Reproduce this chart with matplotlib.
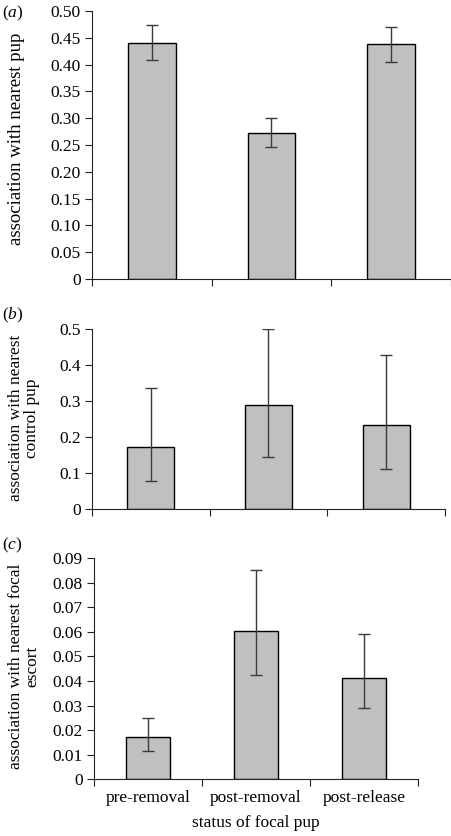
import matplotlib
matplotlib.use("Agg")
import matplotlib.pyplot as plt
import numpy as np

plt.rcParams['font.family'] = ['Liberation Serif', 'DejaVu Serif']
plt.rcParams['mathtext.fontset'] = 'custom'
plt.rcParams['mathtext.it'] = 'Liberation Serif:italic'
plt.rcParams['mathtext.rm'] = 'Liberation Serif'

# Data
status = ['pre-removal', 'post-removal', 'post-release']

pup_mean = [0.441, 0.273, 0.438]
pup_lo = [0.408, 0.247, 0.405]
pup_hi = [0.473, 0.301, 0.470]

ctrl_mean = [0.172, 0.290, 0.233]
ctrl_lo = [0.078, 0.145, 0.111]
ctrl_hi = [0.336, 0.499, 0.428]

esc_mean = [0.0171, 0.0604, 0.0413]
esc_lo = [0.0115, 0.0425, 0.0289]
esc_hi = [0.0249, 0.0850, 0.0590]

W, H = 452, 836
fig = plt.figure(figsize=(W / 100, H / 100), dpi=100)


def box(l, r, top, bot):
    return [l / W, 1 - bot / H, (r - l) / W, (bot - top) / H]


def panel(rect, mean, lo, hi, ymax, yticks, fmt, ylabel, lab_x, lab_y, lab_fs, tag, tag_y, show_x=False):
    ax = fig.add_axes(rect)
    x = np.arange(len(mean))
    mean = np.array(mean)
    err = [mean - np.array(lo), np.array(hi) - mean]
    ax.bar(x, mean, width=0.4, color='#c0c0c0', edgecolor='black', linewidth=1.0, zorder=2)
    ax.errorbar(x, mean, yerr=err, fmt='none', ecolor='#3a3a3a', elinewidth=1.0,
                capsize=4, capthick=1.0, zorder=3)
    ax.set_xlim(-0.5, 2.5)
    ax.set_ylim(0, ymax)
    ax.set_yticks(yticks)
    ax.set_yticklabels([fmt(v) for v in yticks])
    ax.set_xticks([-0.5, 0.5, 1.5, 2.5])
    ax.set_xticklabels([])
    if show_x:
        ax.set_xticks(x, minor=True)
        ax.set_xticklabels(status, minor=True, fontsize=12.5)
        ax.tick_params(axis='x', which='minor', length=0, pad=8)
        ax.set_xlabel('status of focal pup', fontsize=12.5, labelpad=6)
    for s in ['top', 'right']:
        ax.spines[s].set_visible(False)
    for s in ['left', 'bottom']:
        ax.spines[s].set_color('#222222')
    ax.tick_params(axis='both', which='major', direction='out', length=5,
                   color='#222222', labelsize=12.5, pad=3)
    fig.text(lab_x / W, 1 - lab_y / H, ylabel, rotation=90, ha='center', va='center',
             fontsize=lab_fs, linespacing=1.0, multialignment='center')
    fig.text(2 / W, 1 - tag_y / H, r'($\it{' + tag + '}$)', fontsize=12.5,
             va='center', ha='left')
    return ax


panel(box(92, 451, 11, 279), pup_mean, pup_lo, pup_hi, 0.5,
      np.arange(0, 0.501, 0.05), lambda v: '0' if v == 0 else f'{v:.2f}',
      'association with nearest pup', 17, 139, 13.5, 'a', 13)

panel(box(92, 445, 328.7, 509.3), ctrl_mean, ctrl_lo, ctrl_hi, 0.5,
      np.arange(0, 0.501, 0.1), lambda v: '0' if v == 0 else f'{v:.1f}',
      'association with nearest\ncontrol pup', 24, 418, 12.5, 'b', 315)

panel(box(94, 418, 558, 779.3), esc_mean, esc_lo, esc_hi, 0.09,
      np.arange(0, 0.0901, 0.01), lambda v: '0' if v == 0 else f'{v:.2f}',
      'association with nearest focal\nescort', 24, 666, 12.5, 'c', 545, show_x=True)

fig.savefig('out.png', dpi=100)
